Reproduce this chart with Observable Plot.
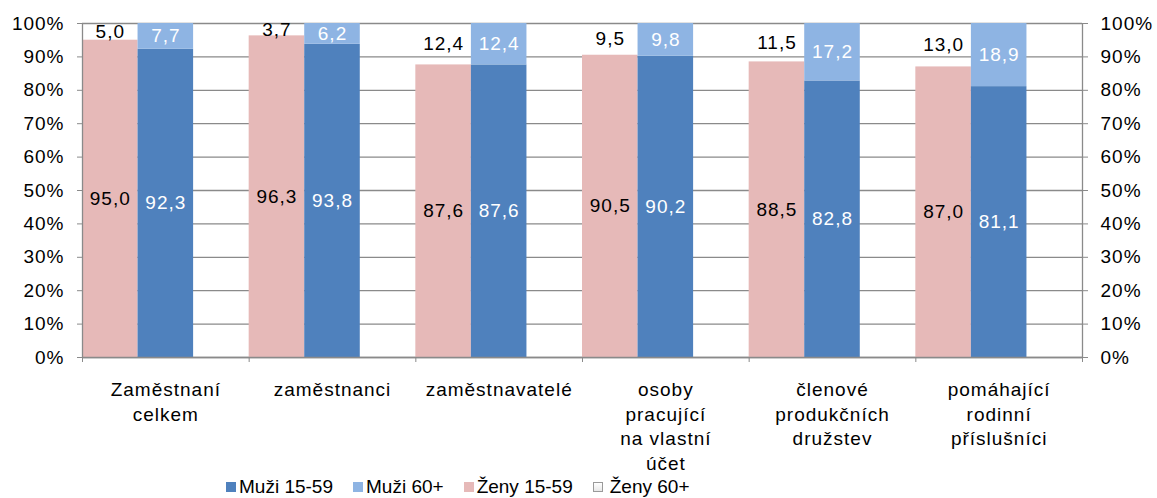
<!DOCTYPE html>
<html>
<head>
<meta charset="utf-8">
<script src="https://cdn.jsdelivr.net/npm/d3@7"></script>
<script src="https://cdn.jsdelivr.net/npm/@observablehq/plot@0.6"></script>
<style>
  html, body { margin: 0; padding: 0; background: #fff; }
  body { font-family: "Liberation Sans", Arial, sans-serif; width: 1157px; height: 498px; overflow: hidden; position: relative; }
  #legend { position: absolute; left: 226px; top: 476px; display: flex; align-items: center; font-size: 19px; color: #000; white-space: nowrap; }
  .item { display: flex; align-items: center; margin-right: 20px; }
  .sw { width: 10px; height: 10px; margin-right: 3px; box-sizing: border-box; }
  #chart svg text { letter-spacing: 1px; }
</style>
</head>
<body>
<div id="chart"></div>
<div id="legend"></div>
<script>
const categories = ["Zaměstnaní\ncelkem", "zaměstnanci", "zaměstnavatelé", "osoby\npracující\nna vlastní\núčet", "členové\nprodukčních\ndružstev", "pomáhající\nrodinní\npříslušníci"];
const zeny1559 = [95.0, 96.3, 87.6, 90.5, 88.5, 87.0];
const zeny60 = [5.0, 3.7, 12.4, 9.5, 11.5, 13.0];
const muzi1559 = [92.3, 93.8, 87.6, 90.2, 82.8, 81.1];
const muzi60 = [7.7, 6.2, 12.4, 9.8, 17.2, 18.9];
const seriesNames = ["Muži 15-59", "Muži 60+", "Ženy 15-59", "Ženy 60+"];
const seriesColors = ["#4F81BD", "#8EB4E3", "#E6B9B8", "transparent"];
const yTicks = [0, 10, 20, 30, 40, 50, 60, 70, 80, 90, 100];

const zenyRows = [];
const muziRows = [];
categories.forEach((c, i) => {
  zenyRows.push({i, slot: 0, series: "Ženy 15-59", value: zeny1559[i]});
  zenyRows.push({i, slot: 0, series: "Ženy 60+", value: zeny60[i]});
  muziRows.push({i, slot: 1, series: "Muži 15-59", value: muzi1559[i]});
  muziRows.push({i, slot: 1, series: "Muži 60+", value: muzi60[i]});
});
const allRows = zenyRows.concat(muziRows);
const fmt = d => d3.format(".1f")(d.value).replace(".", ",");
const nb = categories.length;

const chart = Plot.plot({
  width: 1157,
  height: 476,
  marginLeft: 82,
  marginRight: 75,
  marginTop: 23,
  marginBottom: 119,
  style: {fontFamily: "Liberation Sans, Arial, sans-serif", fontSize: "19px", color: "#000", background: "#fff"},
  x: {type: "linear", domain: [0, nb], axis: null},
  y: {domain: [0, 100], axis: null},
  color: {domain: seriesNames, range: seriesColors},
  marks: [
    Plot.gridY(yTicks, {stroke: "#8a8a8a", strokeOpacity: 1, strokeWidth: 1.3}),
    Plot.rectY(allRows, Plot.stackY({
      x1: d => d.i + d.slot / 3,
      x2: d => d.i + (d.slot + 1) / 3,
      y: "value",
      fill: "series"
    })),
    Plot.ruleX([0, nb], {stroke: "#8a8a8a", strokeWidth: 1.3}),
    Plot.ruleY([0], {stroke: "#8a8a8a", strokeWidth: 1.3}),
    Plot.axisY({anchor: "left", label: null, ticks: yTicks, tickSize: 5, tickPadding: 13, tickFormat: d => d + "%", fontSize: 19, stroke: "#8a8a8a", fill: "#000"}),
    Plot.axisY({anchor: "right", label: null, ticks: yTicks, tickSize: 5, tickPadding: 13, tickFormat: d => d + "%", fontSize: 19, stroke: "#8a8a8a", fill: "#000"}),
    Plot.axisX({label: null, ticks: d3.range(0, nb + 1), tickSize: 5, tickFormat: () => "", stroke: "#8a8a8a"}),
    Plot.axisX({label: null, ticks: d3.range(0, nb).map(i => i + 0.5), tickSize: 0, tickPadding: 21, tickFormat: t => categories[Math.floor(t)], fontSize: 19, lineHeight: 1.3, fill: "#000"}),
    Plot.text(zenyRows, Plot.stackY({
      x: d => d.i + (d.slot + 0.5) / 3,
      y: "value",
      text: fmt,
      fill: "#000",
      fontSize: 19
    })),
    Plot.text(muziRows, Plot.stackY({
      x: d => d.i + (d.slot + 0.5) / 3,
      y: "value",
      text: fmt,
      fill: "#fff",
      fontSize: 19
    }))
  ]
});
document.getElementById("chart").appendChild(chart);

const legend = document.getElementById("legend");
seriesNames.forEach((name, k) => {
  const item = document.createElement("div");
  item.className = "item";
  const sw = document.createElement("div");
  sw.className = "sw";
  if (seriesColors[k] === "transparent") {
    sw.style.border = "1.5px solid #9a9a9a";
    sw.style.background = "linear-gradient(#fff, #e8e8e8)";
    sw.style.marginRight = "7px";
  } else {
    sw.style.background = seriesColors[k];
  }
  const label = document.createElement("span");
  label.textContent = name;
  item.appendChild(sw);
  item.appendChild(label);
  legend.appendChild(item);
});
</script>
</body>
</html>
